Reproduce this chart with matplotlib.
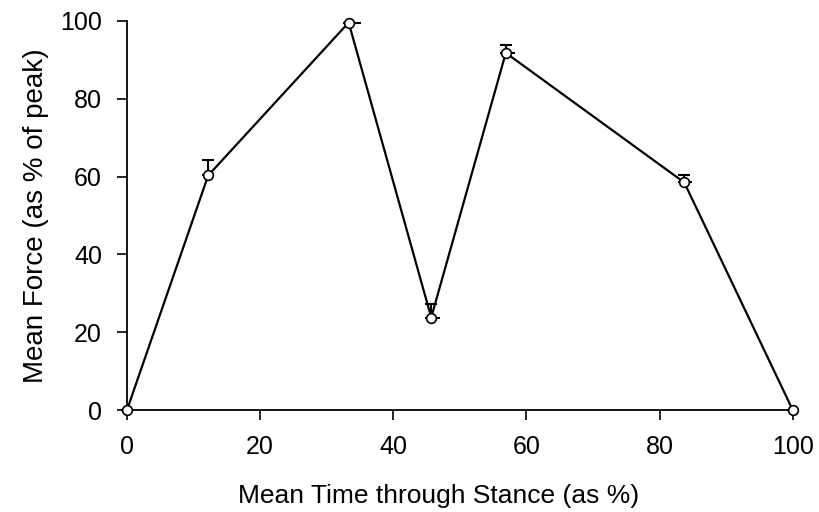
import matplotlib
matplotlib.use('Agg')
import matplotlib.pyplot as plt

# Mean stance data
time_pct = [0, 12.2, 33.3, 45.7, 56.9, 83.7, 100]
force_pct = [0, 60.3, 99.6, 23.8, 91.8, 58.5, 0]
force_err = [0, 4.0, 0, 3.4, 2.0, 1.9, 0]
time_err = [0, 0.6, 1.8, 1.3, 1.4, 1.2, 0]

plt.rcParams['font.family'] = ['Liberation Sans', 'DejaVu Sans']

fig = plt.figure(figsize=(8.19, 5.12), dpi=100)
ax = fig.add_axes([0.155, 0.199, 0.813, 0.76])

# one-sided error bars: force up, time to the right
ax.errorbar(time_pct, force_pct, yerr=[[0] * 7, force_err], fmt='none',
            ecolor='black', elinewidth=1.5, capsize=4, capthick=1.5, clip_on=False)
ax.errorbar(time_pct, force_pct, xerr=[[0] * 7, time_err], fmt='none',
            ecolor='black', elinewidth=1.5, capsize=0, clip_on=False)
ax.plot(time_pct, force_pct, color='black', lw=1.6, marker='o', ms=7,
        mfc='white', mec='black', mew=1.2, clip_on=False, zorder=3)

ax.set_xlim(0, 100)
ax.set_ylim(0, 100)
ax.set_xticks([0, 20, 40, 60, 80, 100])
ax.set_yticks([0, 20, 40, 60, 80, 100])
ax.spines['right'].set_visible(False)
ax.spines['top'].set_visible(False)
ax.spines['left'].set_linewidth(1.3)
ax.spines['bottom'].set_linewidth(1.3)
ax.tick_params(direction='out', length=7, width=1.2, labelsize=18, pad=11)

ax.set_xlabel('Mean Time through Stance (as %)', fontsize=19)
ax.xaxis.set_label_coords(0.468, -0.19)
ax.set_ylabel('Mean Force (as % of peak)', fontsize=20, labelpad=8)

plt.savefig('out.png', dpi=100)
